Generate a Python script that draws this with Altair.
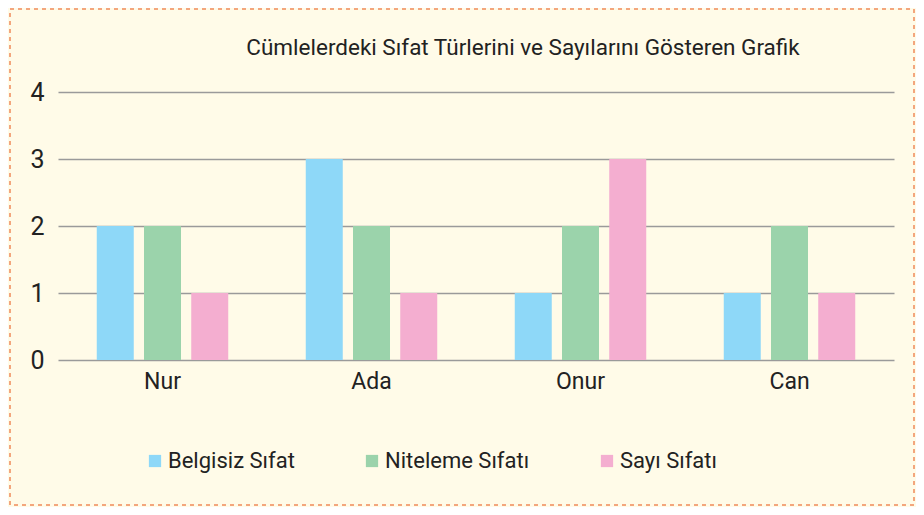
import altair as alt
import pandas as pd

names = ["Nur", "Ada", "Onur", "Can"]
types = ["Belgisiz Sıfat", "Niteleme Sıfatı", "Sayı Sıfatı"]
belgisiz = [2, 3, 1, 1]
niteleme = [2, 2, 2, 2]
sayi = [1, 1, 3, 1]
colors = ["#8ed8f8", "#9bd3ab", "#f4aed0"]
title = "Cümlelerdeki Sıfat Türlerini ve Sayılarını Gösteren Grafik"

rows = []
for i, n in enumerate(names):
    for t, vals in zip(types, [belgisiz, niteleme, sayi]):
        rows.append({"kisi": n, "tur": t, "sayi": vals[i]})
df = pd.DataFrame(rows)

FONT = "Roboto"
W, H = 836, 268

bars = alt.Chart(df).mark_bar(size=37).encode(
    x=alt.X("kisi:N", sort=names, title=None,
            scale=alt.Scale(paddingInner=0.37, paddingOuter=0.185),
            axis=alt.Axis(labelAngle=0, labelFontSize=23, labelPadding=10,
                          ticks=False, domain=False, labelColor="#222",
                          labelFont=FONT, grid=False)),
    xOffset=alt.XOffset("tur:N", sort=types,
                        scale=alt.Scale(paddingInner=0.213, paddingOuter=0)),
    y=alt.Y("sayi:Q", title=None,
            scale=alt.Scale(domain=[0, 4]),
            axis=alt.Axis(values=[0, 1, 2, 3, 4], labelFontSize=25,
                          labelPadding=14, ticks=False, domain=False,
                          gridColor="#9a9a9a", gridWidth=1.6, gridOpacity=1,
                          labelColor="#222", labelFont=FONT)),
    color=alt.Color("tur:N", sort=types,
                    scale=alt.Scale(domain=types, range=colors),
                    legend=alt.Legend(title=None, orient="none", direction="horizontal",
                                      legendX=86, legendY=358, symbolType="square",
                                      symbolSize=150, symbolStrokeWidth=0,
                                      labelFontSize=22, labelFont=FONT, labelColor="#222",
                                      columnPadding=66, labelOffset=2)),
)

title_layer = alt.Chart(pd.DataFrame({"t": [title]})).mark_text(
    fontSize=22.5, font=FONT, color="#222", align="center", baseline="middle"
).encode(text="t:N", x=alt.value(465), y=alt.value(-44))

frame = alt.Chart(pd.DataFrame({"a": [0]})).mark_rect(
    fill=None, stroke="#f08a5a", strokeWidth=1.5, strokeDash=[4, 4]
).encode(x=alt.value(-48), x2=alt.value(W + 20), y=alt.value(-83), y2=alt.value(H + 145))

chart = alt.layer(bars, title_layer, frame).properties(
    width=W, height=H,
    autosize=alt.AutoSizeParams(type="none"),
    padding={"left": 50, "top": 84, "right": 22, "bottom": 147},
    background="#fffbe8",
).configure_view(stroke=None)

chart.save("out.html", embed_options={"renderer": "svg", "actions": False})
